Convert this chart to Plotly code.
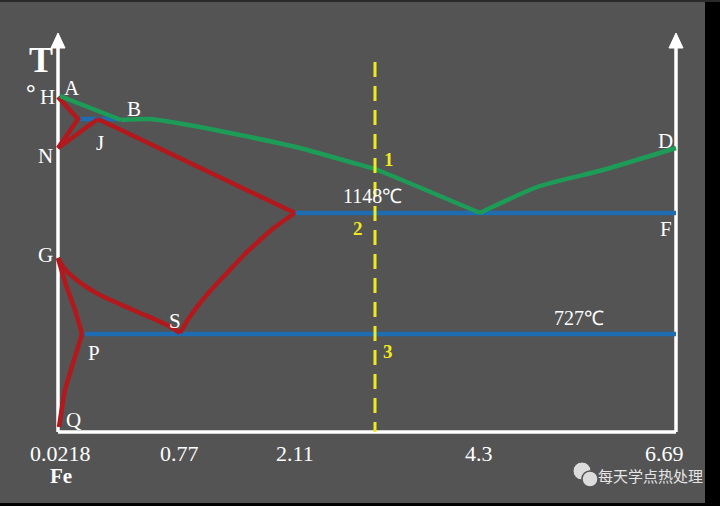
import plotly.graph_objects as go

# Schematic Fe-Fe3C diagram coordinates (u: composition axis, v: temperature axis, schematic units)
liq_u = [2, 63, 92, 142, 192, 242, 292, 317, 422, 479, 545, 618]
liq_v = [336, 312, 313, 305, 295, 284, 270, 263, 219, 245, 262, 284]

delta_u = [0, 20, 0, 40]
delta_v = [335, 313, 284, 313]

je_u = [40, 237]
je_v = [313, 219]

es_u = [237, 217, 202, 185, 169, 154, 142, 131, 122]
es_v = [219, 205, 192, 176, 159, 143, 129, 114, 99]

gs_u = [0, 6, 15, 30, 42, 75, 109, 122]
gs_v = [174, 164, 155, 144, 137, 122, 107, 99]

gpq_u = [0, 8, 17, 24, 15, 7, 1]
gpq_v = [174, 147, 122, 98, 69, 42, 5]

hjb_u = [22, 62]
hjb_v = [313, 313]
ecf_u = [237, 618]
ecf_v = [219, 219]
psk_u = [27, 618]
psk_v = [98, 98]

alloy_u = [317, 317]
alloy_v = [370, 0]

tick_labels = ["0.0218", "0.77", "2.11", "4.3", "6.69"]
tick_u = [2, 121, 237, 421, 606]

point_labels = ["A", "B", "N", "J", "G", "S", "P", "Q", "D", "F"]
point_u = [14, 76, -13, 42, -13, 117, 36, 15, 607, 608]
point_v = [344, 323, 276, 289, 177, 111, 79, 12, 291, 203]

temp_labels = ["1148℃", "727℃"]
temp_u = [314, 521]
temp_v = [236, 114]

cut_labels = ["1", "2", "3"]
cut_u = [331, 300, 330]
cut_v = [273, 204, 81]

WHITE = "#ffffff"
RED = "#b3181c"
GREEN = "#1c9c57"
BLUE = "#1f6cb0"
YELLOW = "#f0ea1c"
BG = "#545454"

fig = go.Figure()

def poly(u, v, color, width=4.5, spline=False, smoothing=0.5):
    fig.add_trace(go.Scatter(x=u, y=v, mode="lines",
                             line=dict(color=color, width=width,
                                       shape="spline" if spline else "linear",
                                       smoothing=smoothing if spline else None),
                             hoverinfo="skip", showlegend=False))

# axes (white frame with arrows)
poly([0, 0], [0, 386], WHITE, 3.5)
poly([618, 618], [0, 386], WHITE, 3.5)
poly([0, 618], [0, 0], WHITE, 3.5)
for xu in (0, 618):
    fig.add_trace(go.Scatter(x=[xu, xu - 7, xu + 7, xu], y=[399, 384, 384, 399], mode="lines",
                             fill="toself", fillcolor=WHITE, line=dict(color=WHITE, width=1),
                             hoverinfo="skip", showlegend=False))

# blue isotherms
poly(hjb_u, hjb_v, BLUE)
poly(ecf_u, ecf_v, BLUE)
poly(psk_u, psk_v, BLUE)

# red lines
poly(delta_u, delta_v, RED)
poly(je_u, je_v, RED)
poly(es_u, es_v, RED, spline=True, smoothing=0.8)
poly(gs_u, gs_v, RED, spline=True, smoothing=0.8)
poly(gpq_u[:4], gpq_v[:4], RED, spline=True)
poly(gpq_u[3:], gpq_v[3:], RED, spline=True)

# green liquidus
poly(liq_u[:2], liq_v[:2], GREEN)
poly(liq_u[1:9], liq_v[1:9], GREEN, spline=True, smoothing=0.4)
poly(liq_u[8:], liq_v[8:], GREEN, spline=True, smoothing=0.5)

# yellow alloy line
fig.add_trace(go.Scatter(x=alloy_u, y=alloy_v, mode="lines",
                         line=dict(color=YELLOW, width=3, dash="15px,9px"),
                         hoverinfo="skip", showlegend=False))

serif = "Liberation Serif, Times New Roman, serif"
ann = []
def txt(u, v, s, size=20, color=WHITE, bold=False, family=serif):
    ann.append(dict(x=u, y=v, text=f"<b>{s}</b>" if bold else s, showarrow=False,
                    font=dict(family=family, size=size, color=color),
                    xanchor="center", yanchor="middle"))

for s, u, v in zip(point_labels, point_u, point_v):
    txt(u, v, s, 21)
txt(-11, 335, "H", 21)
txt(-27, 339, "°", 24, bold=True)
txt(-17, 372, "T", 36, bold=True)
for s, u, v in zip(temp_labels, temp_u, temp_v):
    txt(u, v, s, 20)
for s, u, v in zip(cut_labels, cut_u, cut_v):
    txt(u, v, s, 19, YELLOW, bold=True)
for s, u in zip(tick_labels, tick_u):
    txt(u, -21, s, 22)
txt(3, -44, "Fe", 21, bold=True)
txt(592, -43, "每天学点热处理", 15, "#e6e6e6", family="Noto Sans CJK SC")

shapes = [
    dict(type="rect", xref="x", yref="y", x0=647, x1=670, y0=-80, y1=440, fillcolor="#000000", line_width=0, layer="below"),
    dict(type="rect", xref="x", yref="y", x0=-70, x1=670, y0=-80, y1=-71, fillcolor="#000000", line_width=0, layer="below"),
    dict(type="rect", xref="x", yref="y", x0=-70, x1=670, y0=430, y1=440, fillcolor="#2a2a2a", line_width=0, layer="below"),
    dict(type="circle", xref="x", yref="y", x0=515, x1=533, y0=-48, y1=-30, fillcolor="#dcdcdc", line=dict(color=BG, width=1)),
    dict(type="circle", xref="x", yref="y", x0=524, x1=540, y0=-55, y1=-39, fillcolor="#dcdcdc", line=dict(color=BG, width=1.5)),
]

fig.update_layout(
    width=720, height=506,
    margin=dict(l=0, r=0, t=0, b=0),
    paper_bgcolor=BG, plot_bgcolor="rgba(0,0,0,0)",
    xaxis=dict(range=[-58, 662], visible=False, fixedrange=True),
    yaxis=dict(range=[-74, 432], visible=False, fixedrange=True),
    annotations=ann, shapes=shapes, showlegend=False,
)

fig.write_html("out.html", config={"displayModeBar": False},
               post_script="document.body.style.margin='0';document.body.style.background='#000';")
